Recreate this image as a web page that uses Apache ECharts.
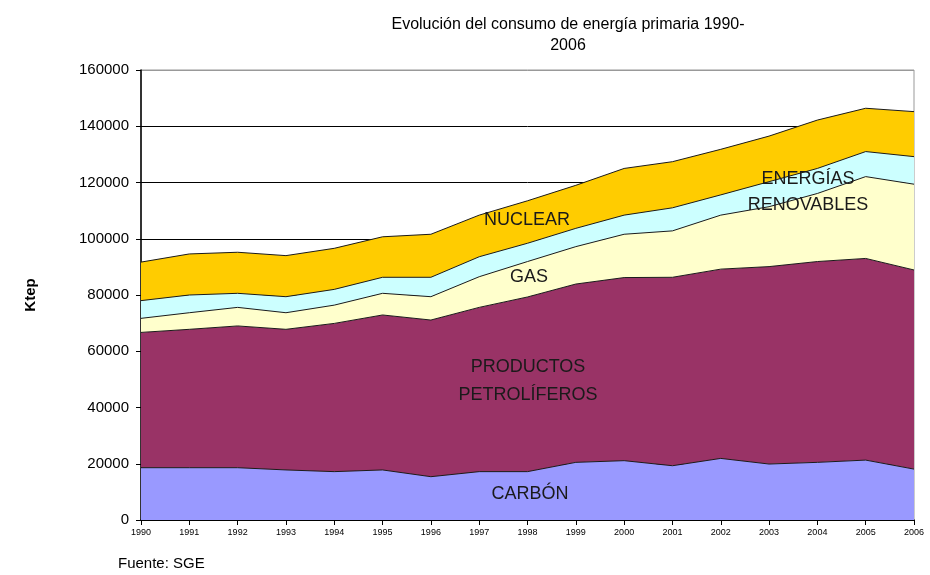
<!DOCTYPE html>
<html>
<head>
<meta charset="utf-8">
<script src="https://cdn.jsdelivr.net/npm/echarts@6/dist/echarts.min.js"></script>
<style>html,body{margin:0;padding:0;background:#fff;}#c{width:930px;height:575px;}</style>
</head>
<body>
<div id="c"></div>
<script>
const years = ['1990','1991','1992','1993','1994','1995','1996','1997','1998','1999','2000','2001','2002','2003','2004','2005','2006'];
const carbon = [18600,18600,18600,17800,17200,17800,15400,17200,17200,20500,21100,19300,21900,19900,20500,21300,18100];
const petroleo = [48100,49200,50400,50000,52700,55100,55700,58400,62100,63400,65100,67000,67300,70200,71400,71700,70800];
const gas = [5000,5900,6600,5900,6500,7700,8300,10900,12600,13300,15400,16500,19200,21300,24200,29100,30500];
const renovables = [6300,6300,5000,5700,5600,5700,6900,7100,6500,6500,6800,8200,7200,8900,8900,8900,9800];
const nuclear = [13700,14600,14600,14600,14600,14400,15300,14800,15100,15300,16600,16400,16200,16200,17200,15400,16000];

const FONT = '"Liberation Sans", Arial, sans-serif';
function layer(name, data, color) {
  return {
    name, type: 'line', stack: 'total', data, symbol: 'none',
    lineStyle: { color: '#1a1a1a', width: 1 },
    areaStyle: { color, opacity: 1 },
    silent: true, z: 2
  };
}
const chart = echarts.init(document.getElementById('c'), null, { renderer: 'canvas' });
chart.setOption({
  animation: false,
  backgroundColor: '#fff',
  title: {
    text: 'Evolución del consumo de energía primaria 1990-\n2006',
    left: 563, top: 9, textAlign: 'center',
    textStyle: { fontFamily: FONT, fontSize: 16, fontWeight: 'normal', color: '#000', lineHeight: 21 }
  },
  grid: { left: 141, right: 16, top: 70, bottom: 55, show: true, borderColor: '#999', borderWidth: 1, backgroundColor: 'transparent' },
  xAxis: {
    type: 'category', data: years, boundaryGap: false,
    axisLine: { lineStyle: { color: '#000', width: 1.5 } },
    axisTick: { show: true, alignWithLabel: true, length: 5, lineStyle: { color: '#000' } },
    axisLabel: { fontFamily: FONT, fontSize: 9, color: '#000', margin: 8, interval: 0 },
    splitLine: { show: false }
  },
  yAxis: {
    type: 'value', min: 0, max: 160000, interval: 20000,
    name: 'Ktep', nameLocation: 'middle', nameGap: 103, nameRotate: 90,
    nameTextStyle: { fontFamily: FONT, fontSize: 15, fontWeight: 'bold', color: '#000' },
    axisLine: { show: true, lineStyle: { color: '#000', width: 1.5 } },
    axisTick: { show: true, length: 5, lineStyle: { color: '#000' } },
    axisLabel: { fontFamily: FONT, fontSize: 15, color: '#000', margin: 12, formatter: v => String(v) },
    splitLine: { show: true, lineStyle: { color: ['#000','#000','#000','#000','#000','#000','#000','#000','#999'], width: 1 } }
  },
  series: [
    layer('Carbón', carbon, '#9999FF'),
    layer('Productos petrolíferos', petroleo, '#993366'),
    layer('Gas', gas, '#FFFFCC'),
    layer('Energías renovables', renovables, '#CCFFFF'),
    layer('Nuclear', nuclear, '#FFCC00')
  ],
  graphic: [
    { type: 'text', x: 527, y: 220, style: { text: 'NUCLEAR', font: '18px ' + FONT, fill: '#1a1a1a', align: 'center', verticalAlign: 'middle' }, z: 10 },
    { type: 'text', x: 529, y: 277, style: { text: 'GAS', font: '18px ' + FONT, fill: '#1a1a1a', align: 'center', verticalAlign: 'middle' }, z: 10 },
    { type: 'text', x: 528, y: 381, style: { text: 'PRODUCTOS\nPETROLÍFEROS', font: '18px ' + FONT, fill: '#1a1a1a', align: 'center', verticalAlign: 'middle', lineHeight: 28 }, z: 10 },
    { type: 'text', x: 530, y: 494, style: { text: 'CARBÓN', font: '18px ' + FONT, fill: '#1a1a1a', align: 'center', verticalAlign: 'middle' }, z: 10 },
    { type: 'text', x: 808, y: 192, style: { text: 'ENERGÍAS\nRENOVABLES', font: '18px ' + FONT, fill: '#1a1a1a', align: 'center', verticalAlign: 'middle', lineHeight: 26 }, z: 10 },
    { type: 'text', x: 118, y: 564, style: { text: 'Fuente: SGE', font: '15px ' + FONT, fill: '#000', align: 'left', verticalAlign: 'middle' }, z: 10 }
  ]
});
</script>
</body>
</html>
